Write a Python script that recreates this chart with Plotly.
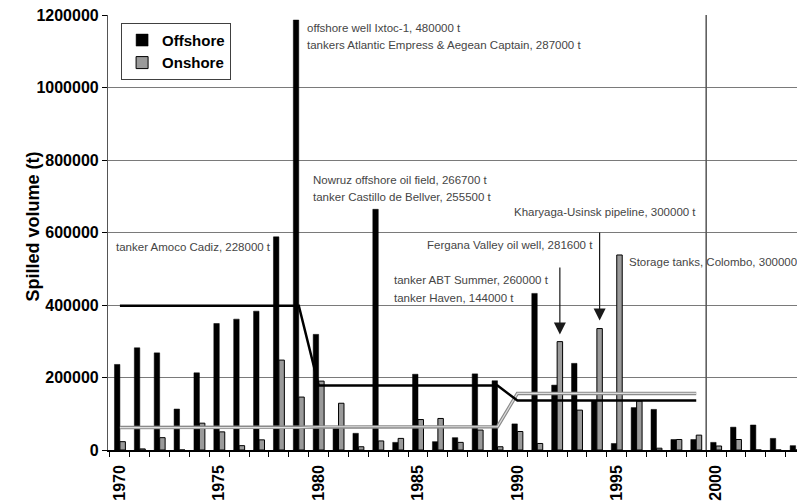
import numpy as np
import plotly.graph_objects as go

# Annual spilled oil volume (tonnes), 1970-2004
years = list(range(1970, 2005))
offshore = [236000, 282000, 268000, 113000, 213000, 349000, 361000, 383000, 588000, 1186000,
            319000, 61000, 46000, 664000, 21000, 209000, 23000, 34000, 210000, 191000,
            72000, 432000, 179000, 239000, 136000, 18000, 117000, 112000, 29000, 29000,
            21000, 63000, 69000, 32000, 12000]
onshore = [23000, 3000, 34000, 0, 74000, 50000, 12000, 28000, 248000, 146000,
           190000, 129000, 9000, 25000, 32000, 84000, 87000, 21000, 55000, 9000,
           51000, 18000, 299000, 110000, 335000, 538000, 135000, 5000, 29000, 41000,
           11000, 29000, 0, 0, 0]

y_ticks = [0, 200000, 400000, 600000, 800000, 1000000, 1200000]
x_label_years = [1970, 1975, 1980, 1985, 1990, 1995, 2000]
decades = [1970, 1980, 1990]

BARGAP = 0.45
half_group = (1 - BARGAP) / 4  # offset from year centre to each bar centre


def decade_steps(values):
    """Stepped line at each decade's mean, from first to last year of the decade."""
    xs, ys = [], []
    for d in decades:
        chunk = [v for y, v in zip(years, values) if d <= y <= d + 9]
        m = float(np.mean(chunk))
        xs += [d, d + 9]
        ys += [m, m]
    return xs, ys


off_x, off_y = decade_steps(offshore)
on_x, on_y = decade_steps(onshore)

fig = go.Figure()
fig.add_trace(go.Bar(x=years, y=offshore, name="Offshore",
                     marker=dict(color="#000000", line=dict(color="#000000", width=0.5))))
fig.add_trace(go.Bar(x=years, y=onshore, name="Onshore",
                     marker=dict(color="#9a9a9a", line=dict(color="#000000", width=1))))

# decade averages
fig.add_trace(go.Scatter(x=on_x, y=on_y, mode="lines", showlegend=False, hoverinfo="skip",
                         line=dict(color="#8a8a8a", width=3.5)))
fig.add_trace(go.Scatter(x=on_x, y=on_y, mode="lines", showlegend=False, hoverinfo="skip",
                         line=dict(color="#dedede", width=1.2)))
fig.add_trace(go.Scatter(x=off_x, y=off_y, mode="lines", showlegend=False, hoverinfo="skip",
                         line=dict(color="#000000", width=2.5)))

note_font = dict(family="Liberation Sans, Arial, sans-serif", size=11.5, color="#454545")
notes = [
    (1979.31, 1164000, "offshore well Ixtoc-1, 480000 t"),
    (1979.31, 1117000, "tankers Atlantic Empress & Aegean Captain, 287000 t"),
    (1979.61, 745000, "Nowruz offshore oil field, 266700 t"),
    (1979.61, 698000, "tanker Castillo de Bellver, 255500 t"),
    (1969.70, 560000, "tanker Amoco Cadiz, 228000 t"),
    (1983.69, 469000, "tanker ABT Summer, 260000 t"),
    (1983.69, 419000, "tanker Haven, 144000 t"),
    (1985.35, 565000, "Fergana Valley oil well, 281600 t"),
    (1989.71, 657000, "Kharyaga-Usinsk pipeline, 300000 t"),
    (1995.52, 518000, "Storage tanks, Colombo, 300000 t"),
]
annotations = [dict(x=x, y=y, text=t, showarrow=False, xanchor="left", yanchor="middle",
                    font=note_font) for x, y, t in notes]

# arrows pointing at the onshore bars of 1992 and 1994
for yr, tail, stand in [(1992, -84, 7), (1994, -106, 8)]:
    annotations.append(dict(x=yr + half_group, y=onshore[years.index(yr)], text=" ",
                            showarrow=True, ax=0, ay=tail, standoff=stand,
                            arrowhead=2, arrowsize=2.0, arrowwidth=1.2, arrowcolor="#1a1a1a"))

# y-axis title
annotations.append(dict(xref="paper", yref="paper", x=0, y=0.514, xshift=-87,
                        text="Spilled volume (t)", textangle=-90, showarrow=False,
                        font=dict(family="Liberation Sans, Arial, sans-serif", size=18,
                                  color="#000000", weight="bold")))

fig.update_layout(
    width=797, height=501,
    margin=dict(l=108, r=0, t=15, b=51),
    paper_bgcolor="white", plot_bgcolor="white",
    barmode="group", bargap=BARGAP, bargroupgap=0,
    showlegend=True,
    legend=dict(x=0.019, y=0.982, xanchor="left", yanchor="top",
                bgcolor="white", bordercolor="#404040", borderwidth=1,
                font=dict(family="Liberation Sans, Arial, sans-serif", size=15,
                          color="#000000", weight="bold"),
                tracegroupgap=4),
    annotations=annotations,
    shapes=[dict(type="line", xref="x", yref="y", x0=1999.5, x1=1999.5,
                 y0=0, y1=y_ticks[-1], line=dict(color="#555555", width=1.5))],
)

fig.update_xaxes(
    range=[1969.4, 2004.07],
    tickmode="array", tickvals=x_label_years, ticktext=[str(v) for v in x_label_years],
    tickangle=-90, ticks="", ticklen=0, ticklabelstandoff=7,
    tickfont=dict(family="Liberation Sans, Arial, sans-serif", size=16,
                  color="#000000", weight="bold"),
    minor=dict(tick0=1969.5, dtick=1, ticks="outside", ticklen=5,
               tickcolor="#000000", showgrid=False),
    showgrid=False, showline=True, linecolor="#000000", linewidth=1.5,
    zeroline=False,
)
fig.update_yaxes(
    range=[0, 1200000],
    tickmode="array", tickvals=y_ticks, ticktext=[str(v) for v in y_ticks],
    ticks="outside", ticklen=5, tickcolor="#000000",
    tickfont=dict(family="Liberation Sans, Arial, sans-serif", size=16,
                  color="#000000", weight="bold"),
    showgrid=True, gridcolor="#7a7a7a", gridwidth=1.2,
    showline=True, linecolor="#555555", linewidth=1.2,
    zeroline=False,
)

fig.write_html("out.html")
